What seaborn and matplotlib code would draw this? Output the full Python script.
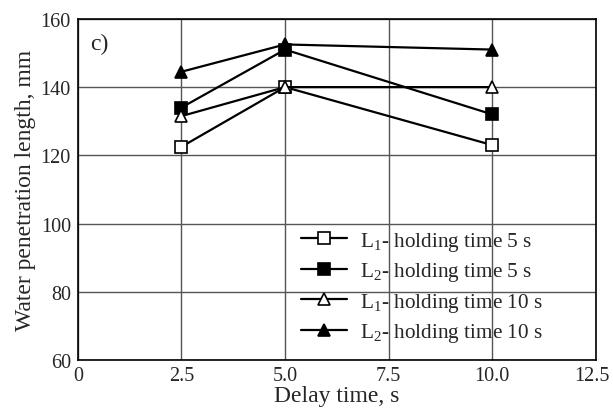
import pandas as pd
import numpy as np
import matplotlib
matplotlib.use("Agg")
import matplotlib.pyplot as plt
import matplotlib.transforms as mtransforms
import seaborn as sns

sns.set_style("white")
plt.rcParams["font.family"] = ["Liberation Serif", "DejaVu Serif"]
plt.rcParams["mathtext.fontset"] = "custom"
plt.rcParams["mathtext.rm"] = "Liberation Serif"
plt.rcParams["mathtext.it"] = "Liberation Serif"

delay = [2.5, 5.0, 10.0]
l1_hold5 = [122.5, 140.0, 123.0]
l2_hold5 = [134.0, 151.0, 132.0]
l1_hold10 = [131.5, 140.0, 140.0]
l2_hold10 = [144.5, 152.5, 151.0]
labels = [r"L$_1$- holding time 5 s", r"L$_2$- holding time 5 s",
          r"L$_1$- holding time 10 s", r"L$_2$- holding time 10 s"]
series = [l1_hold5, l2_hold5, l1_hold10, l2_hold10]
markers = ["s", "s", "^", "^"]
faces = ["white", "black", "white", "black"]

fig = plt.figure(figsize=(6.13, 4.14), dpi=100)
ax = fig.add_axes([0.127, 0.128, 0.845, 0.824])

for vals, lab, m, fc in zip(series, labels, markers, faces):
    sns.lineplot(x=delay, y=vals, ax=ax, color="black", linewidth=1.6,
                 marker=m, markersize=8.5, markerfacecolor=fc,
                 markeredgecolor="black", markeredgewidth=1.2, label=lab)

ax.set_xlim(0, 12.5)
ax.set_ylim(60, 160)
ax.set_xticks([0, 2.5, 5.0, 7.5, 10.0, 12.5])
ax.set_xticklabels(["0", "2.5", "5.0", "7.5", "10.0", "12.5"])
ax.set_yticks([60, 80, 100, 120, 140, 160])
ax.tick_params(labelsize=14.5, length=0)
ax.tick_params(axis="x", pad=4)
ax.tick_params(axis="y", pad=5)
ax.grid(True, color="#555555", linewidth=1.0)
ax.set_axisbelow(True)
for s in ax.spines.values():
    s.set_color("black")
    s.set_linewidth(1.2)

# last x label sits a bit left of its tick so it stays inside the figure
last = ax.get_xticklabels()[-1]
last.set_transform(last.get_transform() + mtransforms.ScaledTranslation(-4 / 100, 0, fig.dpi_scale_trans))

ax.set_xlabel("Delay time, s", fontsize=17, labelpad=0)
ax.set_ylabel("Water penetration length, mm", fontsize=17, labelpad=3)
ax.text(0.3, 152.7, "c)", fontsize=17, va="center")

ax.legend(loc="upper left", bbox_to_anchor=(0.43, 0.382), frameon=False,
          fontsize=15.3, handlelength=2.2, labelspacing=0.35, handletextpad=0.6,
          borderpad=0, borderaxespad=0)

fig.savefig("out.png", dpi=100)
